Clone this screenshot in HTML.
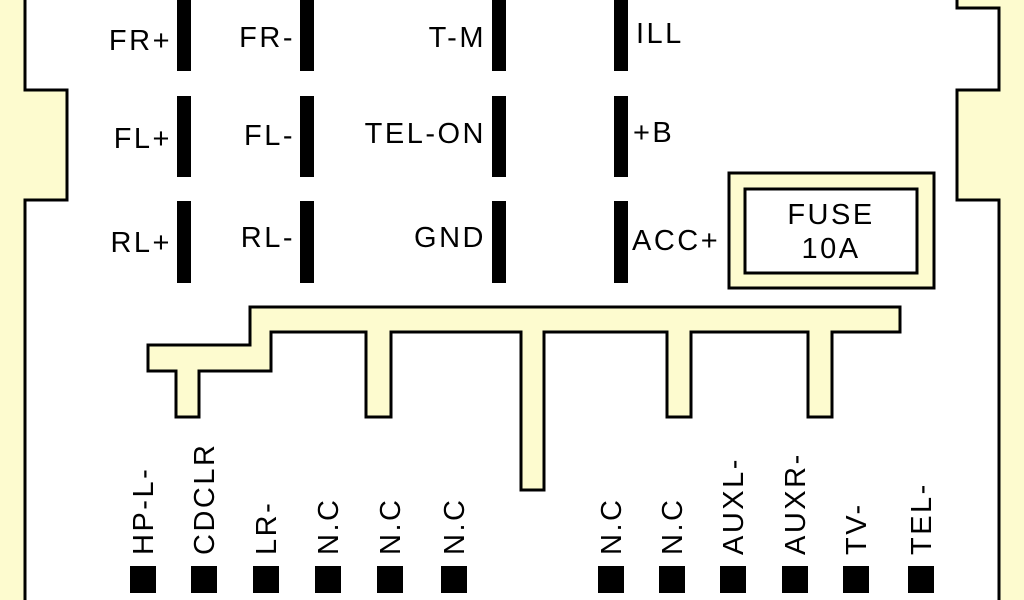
<!DOCTYPE html>
<html><head><meta charset="utf-8"><style>
html,body{margin:0;padding:0;background:#fff}
svg{display:block}
text{font-family:"Liberation Sans",sans-serif;font-size:29px;letter-spacing:2.5px;fill:#000}
</style></head><body>
<svg width="1024" height="600" viewBox="0 0 1024 600" xmlns="http://www.w3.org/2000/svg">
<rect width="1024" height="600" fill="#fff"/>
<!-- left edge -->
<path d="M0,0 H25 V90 H67 V200 H25 V600 H0 Z" fill="#fdfbcf"/>
<path d="M25,0 V90 H67 V200 H25 V600" fill="none" stroke="#000" stroke-width="3"/>
<!-- right edge -->
<path d="M1024,0 H957 V8 H999 V90 H957 V200 H999 V600 H1024 Z" fill="#fdfbcf"/>
<path d="M957,0 V8 H999 V90 H957 V200 H999 V600" fill="none" stroke="#000" stroke-width="3"/>
<!-- bars -->
<g fill="#000">
<rect x="177" y="0" width="14" height="71"/><rect x="177" y="96" width="14" height="81"/><rect x="177" y="201" width="14" height="82"/>
<rect x="300" y="0" width="14" height="71"/><rect x="300" y="96" width="14" height="81"/><rect x="300" y="201" width="14" height="82"/>
<rect x="492" y="0" width="14" height="71"/><rect x="492" y="96" width="14" height="81"/><rect x="492" y="201" width="14" height="82"/>
<rect x="614" y="0" width="14" height="71"/><rect x="614" y="96" width="14" height="81"/><rect x="614" y="201" width="14" height="82"/>
</g>
<g text-anchor="end">
<text x="172" y="50">FR+</text><text x="172" y="148">FL+</text><text x="172" y="252">RL+</text>
<text x="295" y="47">FR-</text><text x="295" y="145">FL-</text><text x="295" y="247">RL-</text>
<text x="486" y="47">T-M</text><text x="486" y="143">TEL-ON</text><text x="486" y="247">GND</text>
</g>
<text x="636" y="43">ILL</text><text x="633" y="142">+B</text><text x="632" y="250">ACC+</text>
<!-- fuse -->
<rect x="729" y="173" width="205" height="115" fill="#fdfbcf" stroke="#000" stroke-width="3"/>
<rect x="745" y="189" width="172" height="84" fill="#fff" stroke="#000" stroke-width="3"/>
<text x="831" y="224" text-anchor="middle">FUSE</text>
<text x="831" y="258" text-anchor="middle">10A</text>
<!-- comb -->
<path d="M250,307 H900 V332 H832 V417 H808 V332 H691 V417 H667 V332 H544 V490 H521 V332 H391 V417 H366 V332 H271 V371 H199 V417 H176 V371 H148 V345 H250 Z" fill="#fdfbcf" stroke="#000" stroke-width="3"/>
<!-- pins -->
<g fill="#000">
<rect x="130" y="566" width="26" height="27"/><rect x="191" y="566" width="26" height="27"/><rect x="253" y="566" width="26" height="27"/>
<rect x="315" y="566" width="26" height="27"/><rect x="377" y="566" width="26" height="27"/><rect x="441" y="566" width="26" height="27"/>
<rect x="598" y="566" width="26" height="27"/><rect x="659" y="566" width="26" height="27"/><rect x="720" y="566" width="26" height="27"/>
<rect x="782" y="566" width="26" height="27"/><rect x="843" y="566" width="26" height="27"/><rect x="908" y="566" width="26" height="27"/>
</g>
<g>
<text transform="translate(153,555) rotate(-90)">HP-L-</text>
<text transform="translate(214,555) rotate(-90)">CDCLR</text>
<text transform="translate(276,555) rotate(-90)">LR-</text>
<text transform="translate(338,555) rotate(-90)">N.C</text>
<text transform="translate(400,555) rotate(-90)">N.C</text>
<text transform="translate(464,555) rotate(-90)">N.C</text>
<text transform="translate(621,555) rotate(-90)">N.C</text>
<text transform="translate(682,555) rotate(-90)">N.C</text>
<text transform="translate(743,555) rotate(-90)">AUXL-</text>
<text transform="translate(805,555) rotate(-90)">AUXR-</text>
<text transform="translate(866,555) rotate(-90)">TV-</text>
<text transform="translate(931,555) rotate(-90)">TEL-</text>
</g>
</svg>
</body></html>
